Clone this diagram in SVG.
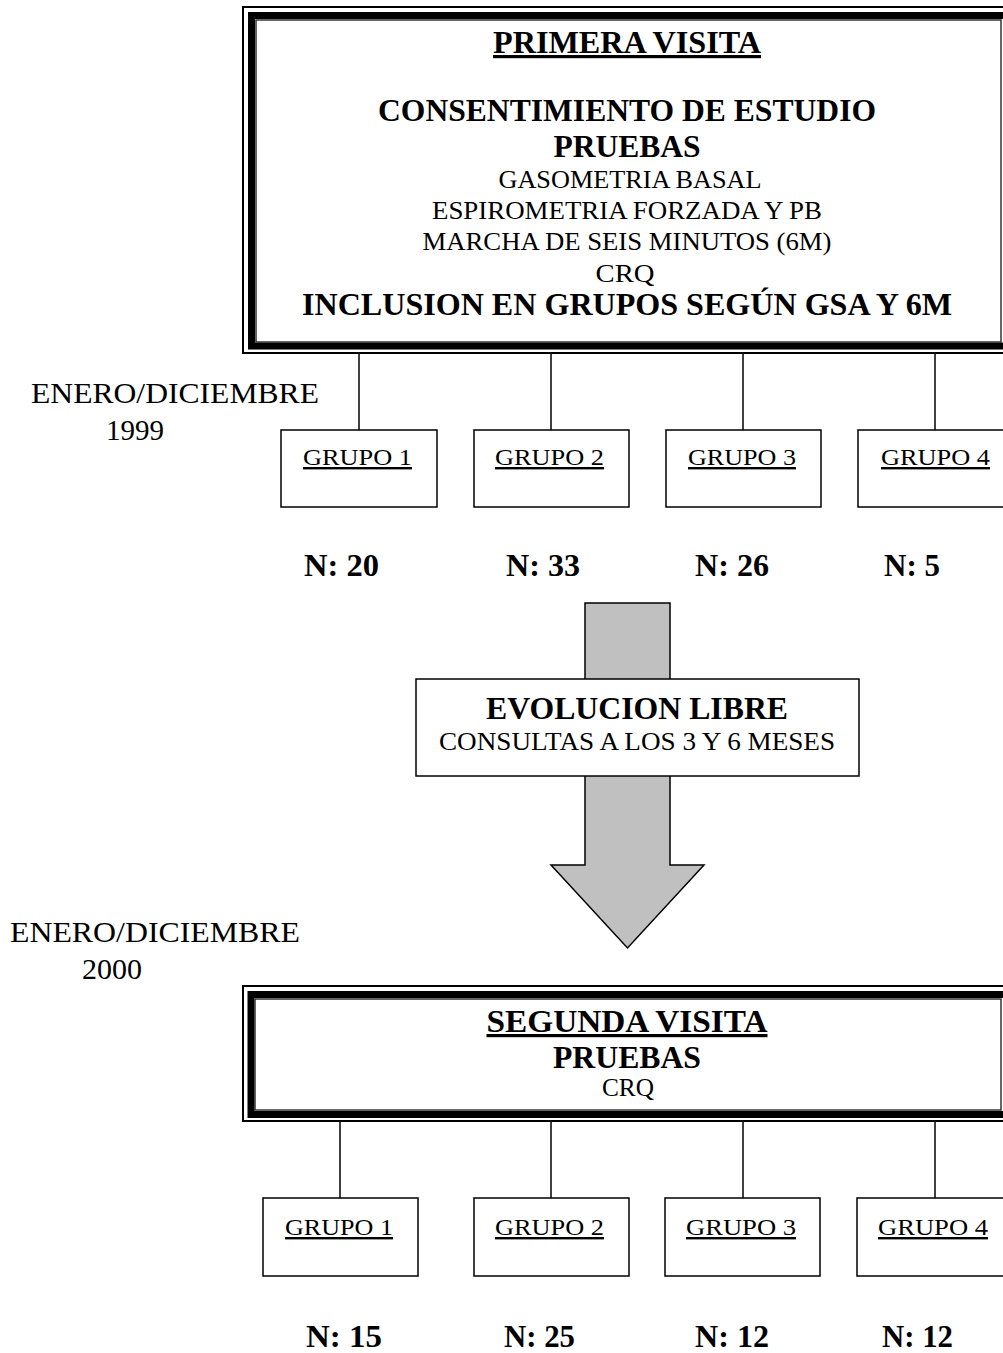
<svg xmlns="http://www.w3.org/2000/svg" width="1003" height="1353" viewBox="0 0 1003 1353">
<style>
text{font-family:"Liberation Serif","Times New Roman",serif;fill:#000}
.b{font-weight:bold;font-size:32px}
.r{font-size:25px}
.g{font-size:24px}
.d{font-size:29px}
.n{font-weight:bold;font-size:31px}
.c{text-anchor:middle}
.u{text-decoration:underline}
.thin{fill:none;stroke:#000;stroke-width:2}
.thick{fill:none;stroke:#000;stroke-width:7}
.inner{fill:none;stroke:#333;stroke-width:1.5}
.box{fill:#fff;stroke:#000;stroke-width:1.5}
.ln{stroke:#000;stroke-width:1.5;fill:none}
</style>
<rect width="1003" height="1353" fill="#fff"/>

<g id="connectors">
<line class="ln" x1="359" y1="354" x2="359" y2="430"/>
<line class="ln" x1="551" y1="354" x2="551" y2="430"/>
<line class="ln" x1="743" y1="354" x2="743" y2="430"/>
<line class="ln" x1="935" y1="354" x2="935" y2="430"/>
<line class="ln" x1="340" y1="1122" x2="340" y2="1198"/>
<line class="ln" x1="551" y1="1122" x2="551" y2="1198"/>
<line class="ln" x1="743" y1="1122" x2="743" y2="1198"/>
<line class="ln" x1="935" y1="1122" x2="935" y2="1198"/>
<polygon points="585,603 670,603 670,865 704,865 627.5,948 551,865 585,865" fill="#c0c0c0" stroke="#000" stroke-width="1.5"/>
</g>

<g id="primera-visita">
<rect class="thin" x="243" y="7" width="790" height="346"/>
<rect class="thick" x="251.5" y="15.5" width="760" height="330.5"/>
<rect class="inner" x="256" y="20" width="745" height="322"/>
<text class="b c u" x="627" y="53" textLength="268" lengthAdjust="spacingAndGlyphs">PRIMERA VISITA</text>
<text class="b c" x="627" y="121" textLength="498" lengthAdjust="spacingAndGlyphs">CONSENTIMIENTO DE ESTUDIO</text>
<text class="b c" x="627" y="157" textLength="147" lengthAdjust="spacingAndGlyphs">PRUEBAS</text>
<text class="r c" x="630" y="188" textLength="263" lengthAdjust="spacingAndGlyphs">GASOMETRIA BASAL</text>
<text class="r c" x="627" y="219" textLength="390" lengthAdjust="spacingAndGlyphs">ESPIROMETRIA FORZADA Y PB</text>
<text class="r c" x="627" y="250" textLength="409" lengthAdjust="spacingAndGlyphs">MARCHA DE SEIS MINUTOS (6M)</text>
<text class="r c" x="625" y="282" textLength="59" lengthAdjust="spacingAndGlyphs">CRQ</text>
<text class="b c" x="627" y="315" textLength="650" lengthAdjust="spacingAndGlyphs">INCLUSION EN GRUPOS SEGÚN GSA Y 6M</text>
</g>

<g id="fecha-1999">
<text class="d" x="31" y="403" textLength="288" lengthAdjust="spacingAndGlyphs">ENERO/DICIEMBRE</text>
<text class="d" x="106" y="440" textLength="58" lengthAdjust="spacingAndGlyphs">1999</text>
</g>

<g id="grupo1-a"><rect class="box" x="281" y="430" width="156" height="77"/><text class="g u" x="303" y="465" textLength="109" lengthAdjust="spacingAndGlyphs">GRUPO 1</text></g>
<g id="grupo2-a"><rect class="box" x="474" y="430" width="155" height="77"/><text class="g u" x="495" y="465" textLength="109" lengthAdjust="spacingAndGlyphs">GRUPO 2</text></g>
<g id="grupo3-a"><rect class="box" x="666" y="430" width="155" height="77"/><text class="g u" x="688" y="465" textLength="108" lengthAdjust="spacingAndGlyphs">GRUPO 3</text></g>
<g id="grupo4-a"><rect class="box" x="858" y="430" width="156" height="77"/><text class="g u" x="881" y="465" textLength="109" lengthAdjust="spacingAndGlyphs">GRUPO 4</text></g>

<g id="n-a">
<text class="n" x="304" y="576" textLength="75" lengthAdjust="spacingAndGlyphs">N: 20</text>
<text class="n" x="506" y="576" textLength="74" lengthAdjust="spacingAndGlyphs">N: 33</text>
<text class="n" x="695" y="576" textLength="74" lengthAdjust="spacingAndGlyphs">N: 26</text>
<text class="n" x="884" y="576" textLength="56" lengthAdjust="spacingAndGlyphs">N: 5</text>
</g>

<g id="evolucion-libre">
<rect class="box" x="416" y="679" width="443" height="97"/>
<text class="b c" x="637" y="719" textLength="302" lengthAdjust="spacingAndGlyphs">EVOLUCION LIBRE</text>
<text class="r c" x="637" y="750" textLength="396" lengthAdjust="spacingAndGlyphs">CONSULTAS A LOS 3 Y 6 MESES</text>
</g>

<g id="fecha-2000">
<text class="d" x="10" y="942" textLength="290" lengthAdjust="spacingAndGlyphs">ENERO/DICIEMBRE</text>
<text class="d" x="82" y="979" textLength="60" lengthAdjust="spacingAndGlyphs">2000</text>
</g>

<g id="segunda-visita">
<rect class="thin" x="243" y="986" width="790" height="135"/>
<rect class="thick" x="251" y="994.5" width="760" height="120"/>
<rect class="inner" x="255" y="999" width="746" height="111"/>
<text class="b c u" x="627" y="1032" textLength="281" lengthAdjust="spacingAndGlyphs">SEGUNDA  VISITA</text>
<text class="b c" x="627" y="1068" textLength="148" lengthAdjust="spacingAndGlyphs">PRUEBAS</text>
<text class="r c" x="628" y="1096" textLength="52" lengthAdjust="spacingAndGlyphs">CRQ</text>
</g>

<g id="grupo1-b"><rect class="box" x="263" y="1198" width="155" height="78"/><text class="g u" x="285" y="1235" textLength="108" lengthAdjust="spacingAndGlyphs">GRUPO 1</text></g>
<g id="grupo2-b"><rect class="box" x="474" y="1198" width="155" height="78"/><text class="g u" x="495" y="1235" textLength="109" lengthAdjust="spacingAndGlyphs">GRUPO 2</text></g>
<g id="grupo3-b"><rect class="box" x="665" y="1198" width="155" height="78"/><text class="g u" x="686" y="1235" textLength="110" lengthAdjust="spacingAndGlyphs">GRUPO 3</text></g>
<g id="grupo4-b"><rect class="box" x="857" y="1198" width="156" height="78"/><text class="g u" x="878" y="1235" textLength="110" lengthAdjust="spacingAndGlyphs">GRUPO 4</text></g>

<g id="n-b">
<text class="n" x="306" y="1347" textLength="76" lengthAdjust="spacingAndGlyphs">N: 15</text>
<text class="n" x="504" y="1347" textLength="71" lengthAdjust="spacingAndGlyphs">N: 25</text>
<text class="n" x="695" y="1347" textLength="74" lengthAdjust="spacingAndGlyphs">N: 12</text>
<text class="n" x="882" y="1347" textLength="71" lengthAdjust="spacingAndGlyphs">N: 12</text>
</g>
</svg>
